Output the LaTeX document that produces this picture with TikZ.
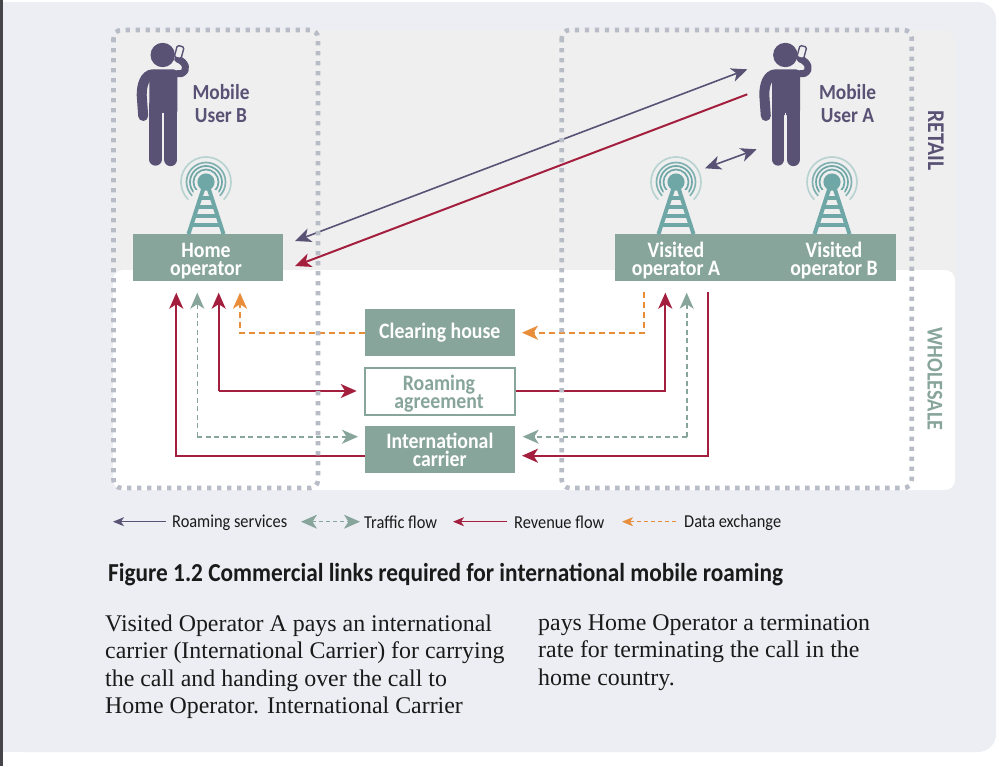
\documentclass[tikz,border=0pt]{standalone}
\usepackage{fontspec}
\usetikzlibrary{arrows.meta}
\setmainfont{Liberation Serif}
\newfontfamily\labelfont{Carlito}[BoldFont={Carlito Bold},FakeStretch=0.9]
\definecolor{panelgrey}{HTML}{ECEEF3}
\definecolor{retailgrey}{HTML}{EFEFF0}
\definecolor{sidebar}{HTML}{45454A}
\definecolor{duskpurple}{HTML}{5A5275}
\definecolor{winered}{HTML}{A31F3D}
\definecolor{sagegreen}{HTML}{88A59B}
\definecolor{amber}{HTML}{E88D3A}
\definecolor{mastteal}{HTML}{6FA6A6}
\definecolor{ringteal}{HTML}{B9D3D1}
\definecolor{dotgrey}{HTML}{B8BCC6}
\definecolor{captionink}{HTML}{1A1A1A}
\tikzset{
  x=1pt, y=-1pt,
  opbox/.style={fill=sagegreen, text=white, inner sep=0pt, minimum width=150pt, minimum height=47pt,
    align=center, font=\labelfont\bfseries\fontsize{22}{18}\selectfont},
  optext/.style={text=white, inner sep=0pt, align=center, font=\labelfont\bfseries\fontsize{22}{18}\selectfont},
  usertext/.style={text=duskpurple, inner sep=0pt, align=center, font=\labelfont\bfseries\fontsize{21.5}{23}\selectfont},
  legendtext/.style={text=captionink, inner sep=0pt, anchor=west, font=\labelfont\fontsize{18.2}{20}\selectfont},
  bodytext/.style={text=captionink, inner sep=0pt, anchor=north west, align=left, font=\fontsize{23.9}{27.4}\selectfont},
  sidetext/.style={rotate=-90, inner sep=0pt},
  bighead/.style={-{Stealth[length=16pt,width=14pt,inset=4.5pt]}},
  bothheads/.style={{Stealth[length=16pt,width=14pt,inset=4.5pt]}-{Stealth[length=16pt,width=14pt,inset=4.5pt]}},
  smallhead/.style={-{Stealth[length=11pt,width=9pt,inset=3pt]}},
  revenue/.style={winered, line width=2pt, bighead},
  services/.style={duskpurple, line width=1.6pt},
  traffic/.style={sagegreen, line width=1.6pt, dash pattern=on 5pt off 3.5pt, bighead},
  dataflow/.style={amber, line width=2pt, dash pattern=on 6pt off 4pt, bighead},
  dotframe/.style={dotgrey, line width=4.6pt, dash pattern=on 4.4pt off 5.6pt, rounded corners=8pt},
  pics/mobileuser/.style={code={
    \fill[duskpurple] (0,0) circle[radius=12.2];
    \fill[duskpurple, rounded corners=4pt] (-13.3,14.3) rectangle (14.7,60);
    \draw[duskpurple, line width=12.3pt, line cap=round] (-7.2,50) -- (-7.2,104.5);
    \draw[duskpurple, line width=13.3pt, line cap=round] (8,50) -- (8,104.5);
    \draw[retailgrey, line width=1.4pt] (0.2,57.7) -- (0.2,111);
    \draw[duskpurple, line width=10pt, line cap=round] (-10,19.3) .. controls (-18,20) and (-21,30) .. (-21,40) -- (-19.5,61);
    \draw[duskpurple, line width=7pt, line cap=round, line join=round] (10,19) -- (19,18.5) .. controls (26,15) and (23,7) .. (15,4);
    \draw[duskpurple, line width=1.4pt, fill=retailgrey, rounded corners=1.5pt, rotate around={-15:(16.5,-3)}]
      (13,-9) rectangle (20,3);
  }},
  pics/mastsymbol/.style={code={
    \begin{scope}[y=1pt]
      \foreach \r/\c in {12.5/mastteal,16/mastteal,19.5/mastteal!75!ringteal,25/ringteal}
        \draw[\c, line width=1.7pt] (225:\r) arc[start angle=225, end angle=-45, radius=\r];
    \end{scope}
    \fill[retailgrey] (-12,8) -- (12,8) -- (22,52) -- (-22,52) -- cycle;
    \fill[mastteal] (0,0) circle[radius=8.6];
    \draw[mastteal, line width=4pt] (-2.5,6) -- (-17.5,52);
    \draw[mastteal, line width=4pt] (2.5,6) -- (17.5,52);
    \foreach \y/\w in {16/4, 25/7, 34/10, 43/13}
      \draw[mastteal, line width=3.4pt] (-\w,\y) -- (\w,\y);
  }}
}
\begin{document}
\begin{tikzpicture}
\useasboundingbox (0,0) rectangle (999,766);
% page and panels
\fill[white] (0,0) rectangle (999,766);
\fill[sidebar] (0,0) rectangle (3,766);
\fill[panelgrey, rounded corners=18pt] (3,2) -- (996,2) -- (996,752) -- (3,752) -- cycle;
\fill[panelgrey] (3,2) rectangle (30,752);
\fill[retailgrey, rounded corners=10pt] (113,30) rectangle (955,290);
\fill[white, rounded corners=10pt] (113,270) rectangle (955,490);
% user figures and masts
\pic at (162.7,55) {mobileuser};
\pic at (785.3,55) {mobileuser};
\pic at (206,182) {mastsymbol};
\pic at (676,182) {mastsymbol};
\pic at (832,182) {mastsymbol};
\node[usertext] (userB) at (221,104) {Mobile\\User B};
\node[usertext] (userA) at (847.5,104) {Mobile\\User A};
% operator blocks
\node[fill=sagegreen, minimum width=150pt, minimum height=47pt, inner sep=0pt] (home) at (208,257.5) {};
\node[fill=sagegreen, minimum width=281pt, minimum height=47pt, inner sep=0pt] (visitedband) at (755.5,257.5) {};
\node[optext] (hometext) at (206,261) {Home\\operator};
\node[optext] (visitedA) at (676,261) {Visited\\operator A};
\node[optext] (visitedB) at (834,261) {Visited\\operator B};
% wholesale blocks
\node[opbox] (clearing) at (439.8,332.8) {Clearing house};
\node[draw=sagegreen, line width=2pt, fill=white, inner sep=0pt, minimum width=149.5pt, minimum height=46.5pt] (agreement) at (440,391.3) {};
\node[optext, text=sagegreen] (agreementtext) at (439,393.8) {Roaming\\agreement};
\node[opbox] (carrier) at (439.8,449.7) {International\\carrier};
% free ends of the links
\coordinate (hrA) at (176.3,292.7);
\coordinate (hgr) at (197.3,292.7);
\coordinate (hrB) at (218.7,292.7);
\coordinate (hor) at (240,292.7);
\coordinate (vor) at (644,292);
\coordinate (vrA) at (665.3,292.7);
\coordinate (vgr) at (686.7,292.7);
\coordinate (vrB) at (708,292);
\coordinate (carrierRedL) at (365,455.7);
\coordinate (carrierRedR) at (522,455.7);
\coordinate (carrierGrL) at (358,436.7);
\coordinate (carrierGrR) at (522.7,436.7);
\coordinate (clearL) at (365,332.7);
\coordinate (clearR) at (522,332.7);
\coordinate (agreeL) at (356.7,391);
\coordinate (agreeR) at (515.5,391);
% wholesale flows
\draw[revenue] (carrierRedL) -| (hrA);
\draw[traffic] (hgr |- carrierGrL) -- (hgr) ;
\draw[traffic] (hgr |- carrierGrL) -- (carrierGrL);
\draw[revenue] (agreeL -| hrB) -- (hrB);
\draw[revenue] (agreeL -| hrB) -- (agreeL);
\draw[dataflow] (clearL) -| (hor);
\draw[dataflow] (vor) |- (clearR);
\draw[revenue] (agreeR) -| (vrA);
\draw[traffic] (vgr |- carrierGrR) -- (vgr);
\draw[traffic] (vgr |- carrierGrR) -- (carrierGrR);
\draw[revenue] (vrB) |- (carrierRedR);
% retail flows
\coordinate (homeIn) at (295,241);
\coordinate (homeRev) at (295,266);
\coordinate (userInTop) at (747.3,69.3);
\coordinate (userOut) at (747.3,94.3);
\coordinate (mastLink) at (705,168.3);
\coordinate (userLink) at (756.7,149.3);
\draw[services, bothheads] (homeIn) -- (userInTop);
\draw[revenue] (userOut) -- (homeRev);
\draw[services, bothheads] (mastLink) -- (userLink);
% dotted country frames
\draw[dotframe] (113.5,30) rectangle (318,488);
\draw[dotframe] (561.7,30) rectangle (911.7,488);
% band labels
\node[sidetext, text=duskpurple, font=\labelfont\bfseries\fontsize{24}{24}\selectfont] (retail) at (936,140.5) {RETAIL};
\node[sidetext, text=sagegreen, font=\labelfont\bfseries\fontsize{22.5}{24}\selectfont] (wholesale) at (935,379) {WHOLESALE};
% legend
\coordinate (lgA) at (113,521.7);
\coordinate (lgB) at (166,521.7);
\coordinate (lgC) at (301,521.7);
\coordinate (lgD) at (360,521.7);
\coordinate (lgE) at (453,521.7);
\coordinate (lgF) at (507,521.7);
\coordinate (lgG) at (622,521.7);
\coordinate (lgH) at (676,521.7);
\draw[duskpurple, line width=1.2pt, smallhead] (lgB) -- (lgA);
\draw[sagegreen, line width=1.2pt, dash pattern=on 4pt off 3pt, bothheads] (lgC) -- (lgD);
\draw[winered, line width=1.2pt, smallhead] (lgF) -- (lgE);
\draw[amber, line width=1.2pt, dash pattern=on 4pt off 3pt, smallhead] (lgH) -- (lgG);
\node[legendtext] (lgservices) at (172,522.5) {Roaming services};
\node[legendtext] (lgtraffic) at (364,522.5) {Traffic flow};
\node[legendtext] (lgrevenue) at (514,522.5) {Revenue flow};
\node[legendtext] (lgdata) at (684,522.5) {Data exchange};
% caption and running text
\node[text=captionink, inner sep=0pt, anchor=west, font=\labelfont\bfseries\fontsize{25.9}{28}\selectfont] (caption) at (108,575)
  {Figure 1.2 Commercial links required for international mobile roaming};
\node[bodytext] (colA) at (105,614.5) {Visited Operator A pays an international\\carrier (International Carrier) for carrying\\the call and handing over the call to\\Home Operator. International Carrier};
\node[bodytext] (colB) at (538,614.5) {pays Home Operator a termination\\rate for terminating the call in the\\home country.};
\end{tikzpicture}
\end{document}
